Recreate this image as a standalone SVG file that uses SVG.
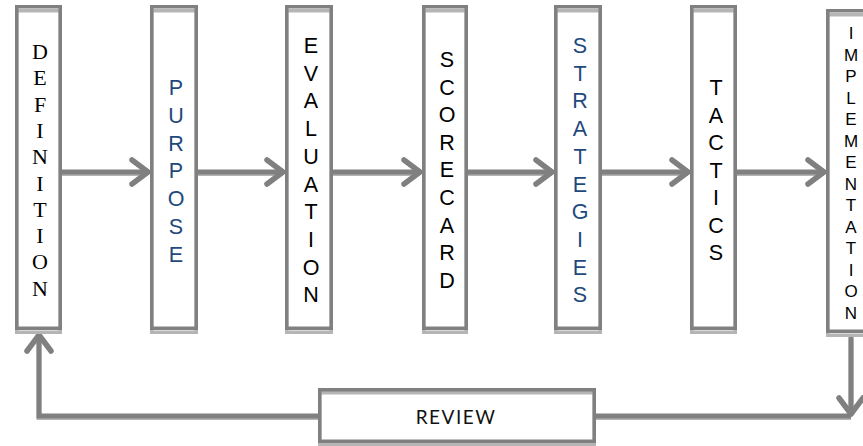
<svg xmlns="http://www.w3.org/2000/svg" width="863" height="446" viewBox="0 0 863 446">
<defs>
<style>
.bg{fill:#ffffff;stroke:none}
.sh{fill:none;stroke:#b5b5b5;stroke-width:3.5}
.bx{fill:none;stroke:#808080;stroke-width:3.5}
.ln{fill:none;stroke:#808080;stroke-width:5}
.lns{fill:none;stroke:#b5b5b5;stroke-width:5}
.serif{font-family:"Liberation Serif","Times New Roman",serif;font-size:22px;fill:#000000;text-anchor:middle}
.sans{font-family:"Liberation Sans",Arial,sans-serif;font-size:21.5px;fill:#000000;text-anchor:middle}
.blue{fill:#1f497d}
.small{font-size:17px}
.rev{font-family:Lato,"Liberation Sans",sans-serif;font-size:19px;fill:#111111;text-anchor:middle;letter-spacing:1.5px}
</style>
<marker id="ah" markerUnits="userSpaceOnUse" markerWidth="40" markerHeight="40" viewBox="-25 -20 40 40" refX="0" refY="0" orient="auto" overflow="visible">
<path d="M-17,-12 L-1,0 L-17,12" fill="none" stroke="#808080" stroke-width="5.5" stroke-linejoin="round" stroke-linecap="round"/>
</marker>
</defs>
<rect x="0" y="0" width="863" height="446" fill="#ffffff"/>

<g id="connectors">
<g transform="translate(0,1.5)">
<path class="lns" d="M62,172 H148"/>
<path class="lns" d="M198,172 H283"/>
<path class="lns" d="M333,172 H420"/>
<path class="lns" d="M468,172 H552"/>
<path class="lns" d="M602,172 H688"/>
<path class="lns" d="M737,172 H824"/>
<path class="lns" d="M318,416 H39 V336"/>
<path class="lns" d="M596,416 H851"/>
<path class="lns" d="M851,337 V414"/>
</g>
<path class="ln" d="M62,172 H149" marker-end="url(#ah)"/>
<path class="ln" d="M198,172 H284" marker-end="url(#ah)"/>
<path class="ln" d="M333,172 H421" marker-end="url(#ah)"/>
<path class="ln" d="M468,172 H553" marker-end="url(#ah)"/>
<path class="ln" d="M602,172 H689" marker-end="url(#ah)"/>
<path class="ln" d="M737,172 H825" marker-end="url(#ah)"/>
<path class="ln" d="M318,416 H39 V334" marker-end="url(#ah)"/>
<path class="ln" d="M596,416 H851"/>
<path class="ln" d="M851,336 V415" marker-end="url(#ah)"/>
</g>

<g id="definition">
<rect class="bg" x="16.75" y="6.75" width="43.5" height="321.5"/>
<rect class="sh" x="16.75" y="10.75" width="43.5" height="321.5"/>
<rect class="bx" x="16.75" y="6.75" width="43.5" height="321.5"/>
<text class="serif"><tspan x="40" y="59">D</tspan><tspan x="40" y="85.3">E</tspan><tspan x="40" y="111.6">F</tspan><tspan x="40" y="137.9">I</tspan><tspan x="40" y="164.2">N</tspan><tspan x="40" y="190.5">I</tspan><tspan x="40" y="216.8">T</tspan><tspan x="40" y="243.1">I</tspan><tspan x="40" y="269.4">O</tspan><tspan x="40" y="295.7">N</tspan></text>
</g>

<g id="purpose">
<rect class="bg" x="151.75" y="6.75" width="44.5" height="321.5"/>
<rect class="sh" x="151.75" y="10.75" width="44.5" height="321.5"/>
<rect class="bx" x="151.75" y="6.75" width="44.5" height="321.5"/>
<text class="sans blue"><tspan x="176" y="95">P</tspan><tspan x="176" y="122.8">U</tspan><tspan x="176" y="150.6">R</tspan><tspan x="176" y="178.4">P</tspan><tspan x="176" y="206.2">O</tspan><tspan x="176" y="234">S</tspan><tspan x="176" y="261.8">E</tspan></text>
</g>

<g id="evaluation">
<rect class="bg" x="286.75" y="6.75" width="44.5" height="321.5"/>
<rect class="sh" x="286.75" y="10.75" width="44.5" height="321.5"/>
<rect class="bx" x="286.75" y="6.75" width="44.5" height="321.5"/>
<text class="sans"><tspan x="311" y="53">E</tspan><tspan x="311" y="80.7">V</tspan><tspan x="311" y="108.4">A</tspan><tspan x="311" y="136.1">L</tspan><tspan x="311" y="163.8">U</tspan><tspan x="311" y="191.5">A</tspan><tspan x="311" y="219.2">T</tspan><tspan x="311" y="246.9">I</tspan><tspan x="311" y="274.6">O</tspan><tspan x="311" y="302.3">N</tspan></text>
</g>

<g id="scorecard">
<rect class="bg" x="423.75" y="6.75" width="42.5" height="321.5"/>
<rect class="sh" x="423.75" y="10.75" width="42.5" height="321.5"/>
<rect class="bx" x="423.75" y="6.75" width="42.5" height="321.5"/>
<text class="sans"><tspan x="447" y="67">S</tspan><tspan x="447" y="94.6">C</tspan><tspan x="447" y="122.2">O</tspan><tspan x="447" y="149.8">R</tspan><tspan x="447" y="177.4">E</tspan><tspan x="447" y="205">C</tspan><tspan x="447" y="232.6">A</tspan><tspan x="447" y="260.2">R</tspan><tspan x="447" y="287.8">D</tspan></text>
</g>

<g id="strategies">
<rect class="bg" x="555.75" y="6.75" width="44.5" height="321.5"/>
<rect class="sh" x="555.75" y="10.75" width="44.5" height="321.5"/>
<rect class="bx" x="555.75" y="6.75" width="44.5" height="321.5"/>
<text class="sans blue"><tspan x="580" y="53">S</tspan><tspan x="580" y="80.7">T</tspan><tspan x="580" y="108.4">R</tspan><tspan x="580" y="136.1">A</tspan><tspan x="580" y="163.8">T</tspan><tspan x="580" y="191.5">E</tspan><tspan x="580" y="219.2">G</tspan><tspan x="580" y="246.9">I</tspan><tspan x="580" y="274.6">E</tspan><tspan x="580" y="302.3">S</tspan></text>
</g>

<g id="tactics">
<rect class="bg" x="691.75" y="6.75" width="43.5" height="321.5"/>
<rect class="sh" x="691.75" y="10.75" width="43.5" height="321.5"/>
<rect class="bx" x="691.75" y="6.75" width="43.5" height="321.5"/>
<text class="sans"><tspan x="716" y="95">T</tspan><tspan x="716" y="122.5">A</tspan><tspan x="716" y="150">C</tspan><tspan x="716" y="177.5">T</tspan><tspan x="716" y="205">I</tspan><tspan x="716" y="232.5">C</tspan><tspan x="716" y="260">S</tspan></text>
</g>

<g id="implementation">
<rect class="bg" x="827.75" y="10.75" width="44" height="320.5"/>
<rect class="sh" x="827.75" y="14.75" width="44" height="320.5"/>
<rect class="bx" x="827.75" y="10.75" width="44" height="320.5"/>
<text class="sans small"><tspan x="851" y="39">I</tspan><tspan x="851" y="60.5">M</tspan><tspan x="851" y="82">P</tspan><tspan x="851" y="103.5">L</tspan><tspan x="851" y="125">E</tspan><tspan x="851" y="146.5">M</tspan><tspan x="851" y="168">E</tspan><tspan x="851" y="189.5">N</tspan><tspan x="851" y="211">T</tspan><tspan x="851" y="232.5">A</tspan><tspan x="851" y="254">T</tspan><tspan x="851" y="275.5">I</tspan><tspan x="851" y="297">O</tspan><tspan x="851" y="318.5">N</tspan></text>
</g>

<g id="review">
<rect class="bg" x="319.75" y="389.75" width="274.5" height="51.5"/>
<rect class="sh" x="319.75" y="392.75" width="274.5" height="51.5"/>
<rect class="bx" x="319.75" y="389.75" width="274.5" height="51.5"/>
<text class="rev" x="456" y="424">REVIEW</text>
</g>
</svg>
